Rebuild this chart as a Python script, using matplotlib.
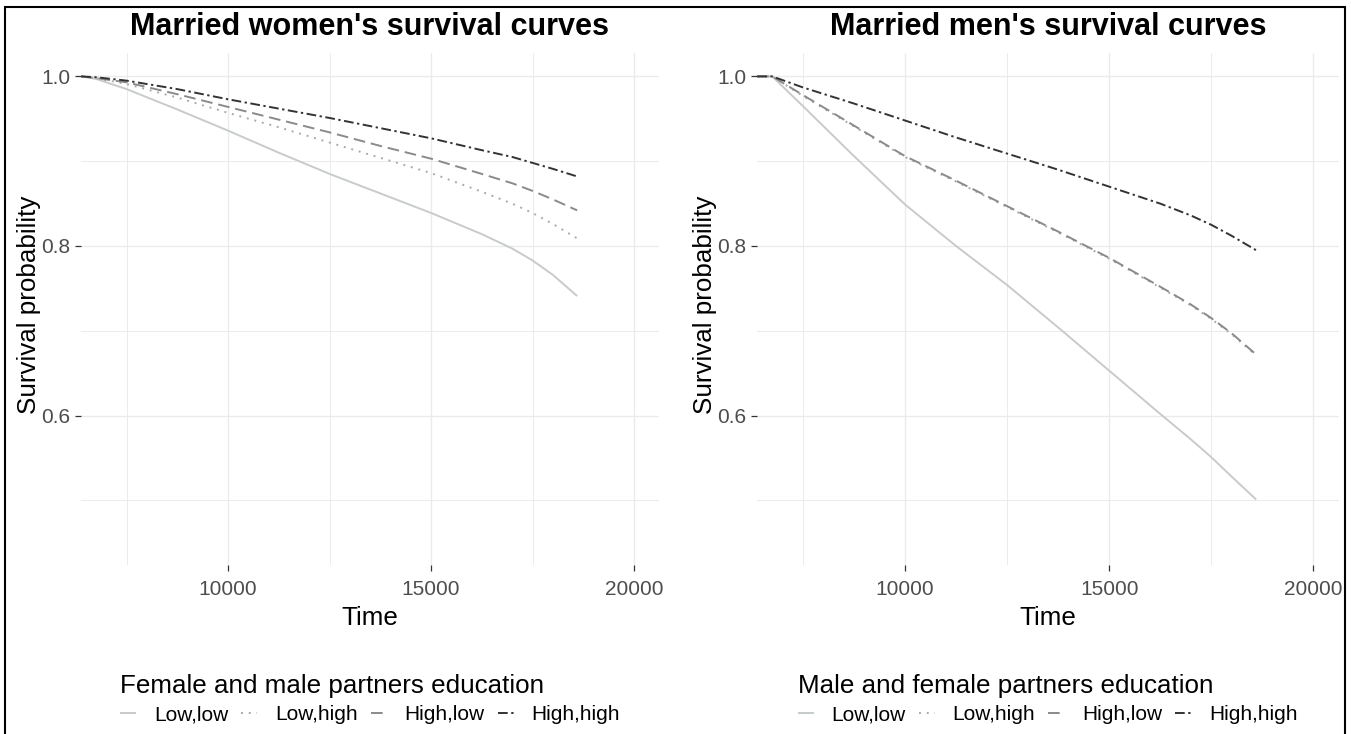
import matplotlib
matplotlib.use('Agg')
import matplotlib.pyplot as plt
from matplotlib.patches import Rectangle

plt.rcParams['font.family'] = ['Liberation Sans', 'DejaVu Sans']

# ---------------- data ----------------
time = [6380, 6750, 7500, 8750, 10000, 11250, 12500, 13750, 15000, 16250, 17000, 17500, 18000, 18600]
groups = ["Low,low", "Low,high", "High,low", "High,high"]

women_low_low = [1.0, 0.997, 0.985, 0.961, 0.936, 0.910, 0.885, 0.862, 0.839, 0.814, 0.797, 0.783, 0.766, 0.741]
women_low_high = [1.0, 0.998, 0.991, 0.975, 0.957, 0.940, 0.922, 0.904, 0.886, 0.864, 0.850, 0.839, 0.826, 0.809]
women_high_low = [1.0, 0.998, 0.993, 0.979, 0.964, 0.949, 0.934, 0.918, 0.903, 0.885, 0.874, 0.865, 0.855, 0.842]
women_high_high = [1.0, 0.999, 0.995, 0.985, 0.973, 0.962, 0.951, 0.939, 0.927, 0.913, 0.905, 0.898, 0.891, 0.882]

men_low_low = [1.0, 1.0, 0.965, 0.906, 0.849, 0.800, 0.754, 0.704, 0.653, 0.602, 0.572, 0.551, 0.528, 0.501]
men_low_high = [1.0, 1.0, 0.977, 0.941, 0.905, 0.876, 0.846, 0.816, 0.785, 0.751, 0.730, 0.714, 0.696, 0.671]
men_high_low = [1.0, 1.0, 0.978, 0.942, 0.906, 0.877, 0.847, 0.817, 0.786, 0.752, 0.731, 0.715, 0.697, 0.672]
men_high_high = [1.0, 1.0, 0.987, 0.968, 0.948, 0.928, 0.909, 0.890, 0.870, 0.850, 0.836, 0.825, 0.812, 0.795]

titles = ["Married women's survival curves", "Married men's survival curves"]
legend_titles = ["Female and male partners education", "Male and female partners education"]
x_ticks = [10000, 15000, 20000]
x_minor = [7500, 12500, 17500]
y_ticks = [0.6, 0.8, 1.0]
y_tick_labels = ["0.6", "0.8", "1.0"]
y_minor = [0.5, 0.7, 0.9]

# ---------------- styles ----------------
colors = ["#C8CCC8", "#AAAAAA", "#8A8A8A", "#333333"]
styles = ["-", (0, (1, 3)), (0, (6, 3)), (0, (5, 1.8, 1.2, 1.8))]
LW = 1.4

W, H = 1351, 734
fig = plt.figure(figsize=(W / 100, H / 100), dpi=100)


def fx(px):
    return px / W


def fy(py):
    return 1 - py / H


panels = [(81, 659), (757, 1338.5)]
top, bottom = 53, 565
series = [
    [women_low_low, women_low_high, women_high_low, women_high_high],
    [men_low_low, men_low_high, men_high_low, men_high_high],
]

for i, (l, r) in enumerate(panels):
    ax = fig.add_axes([fx(l), fy(bottom), (r - l) / W, (bottom - top) / H])
    for vals, g, c, s in zip(series[i], groups, colors, styles):
        ax.plot(time, vals, color=c, linestyle=s, lw=LW, label=g,
                solid_capstyle='butt', dash_capstyle='butt')
    ax.set_xlim(6376, 20616)
    ax.set_ylim(0.4238, 1.0276)
    ax.set_xticks(x_ticks)
    ax.set_xticks(x_minor, minor=True)
    ax.set_xticklabels([str(v) for v in x_ticks])
    ax.set_yticks(y_ticks)
    ax.set_yticks(y_minor, minor=True)
    ax.set_yticklabels(y_tick_labels)
    ax.grid(which='major', color='#EBEBEB', lw=1.0)
    ax.grid(which='minor', color='#EBEBEB', lw=0.7)
    ax.set_axisbelow(True)
    for sp in ax.spines.values():
        sp.set_visible(False)
    ax.tick_params(which='major', length=4, width=0.9, color='#333333',
                   labelsize=15, labelcolor='#4D4D4D', pad=3.5)
    ax.tick_params(axis='x', which='major', pad=7)
    ax.tick_params(which='minor', length=0)

    ax.set_title(titles[i], fontsize=22, fontweight='bold', pad=13.3)
    ax.set_xlabel("Time", fontsize=18.7)
    ax.xaxis.set_label_coords(0.5, (bottom - 625) / (bottom - top))
    ax.xaxis.label.set_va('baseline')
    ax.set_ylabel("Survival probability", fontsize=18.7)
    ax.yaxis.set_label_coords(-52 / (r - l), (bottom - 305) / (bottom - top))
    ax.yaxis.label.set_va('center')

    leg = ax.legend(ncol=4, title=legend_titles[i], loc='upper center',
                    bbox_to_anchor=(fx((l + r) / 2), fy(674)),
                    bbox_transform=fig.transFigure, frameon=False,
                    fontsize=15, title_fontsize=18.7, handlelength=0.77,
                    handletextpad=0.85, columnspacing=0.63, borderpad=0,
                    borderaxespad=0, labelspacing=0.34, alignment='left')

fig.add_artist(Rectangle((fx(5), -0.01), fx(1345) - fx(5), fy(7) + 0.01,
                         transform=fig.transFigure, fill=False,
                         ec='black', lw=1.5))

fig.savefig("out.png", dpi=100)
